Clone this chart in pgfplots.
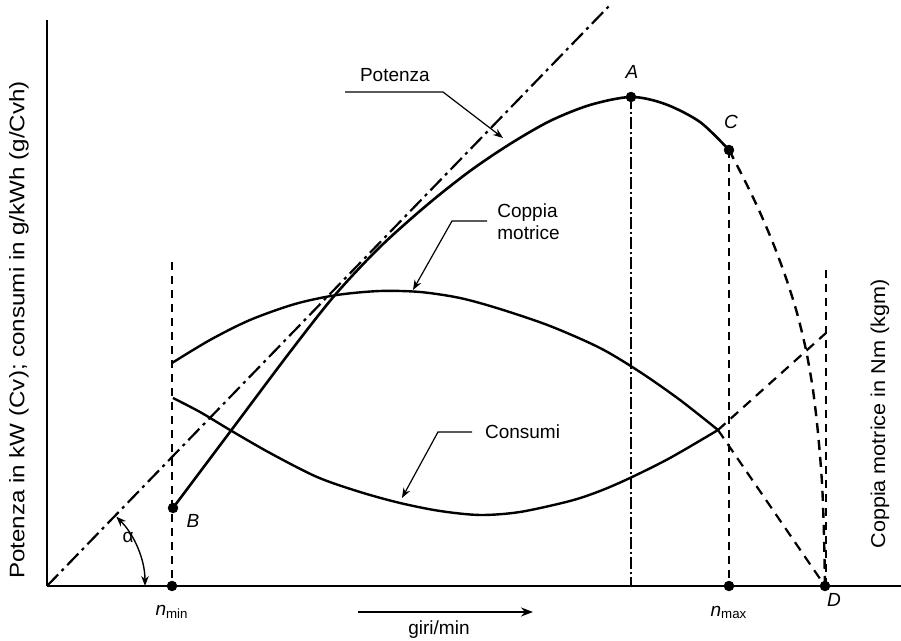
\documentclass[border=0pt]{standalone}
\usepackage{pgfplots}
\pgfplotsset{compat=1.18}
\usepackage{fontspec}
\setmainfont{Liberation Sans}
\usetikzlibrary{arrows.meta}

% coordinates are pixel positions of the scan: x = px, y = 641 - py
\pgfplotstableread{
x y
173 133
230 209
290 289
335 346
380 394
427 436
470 470
510 497
550 520
590 536
631 544
665 537
700 519
729 491
}\potenza
\pgfplotstableread{
x y
729 491
743 464
758 433
773 398
786 363
797 328
806 291
813 251
818 208
822 158
824 106
825 55
}\potenzadash
\pgfplotstableread{
x y
172 278
210 301
250 321
295 337
337 346
380 350
420 349
460 343
500 332
550 315
600 293
640 269
680 241
718 211
}\coppia
\pgfplotstableread{
x y
173 243
200 229
230 211
270 188
317 164
360 149
400 138
440 130
480 126
520 129
570 140
600 150
630 163
670 183
718 211
}\consumi

\begin{document}
\begin{tikzpicture}[font=\fontsize{9.5}{11}\selectfont]
\begin{axis}[
  scale only axis, width=427pt, height=283pt,
  xmin=47, xmax=901, ymin=55, ymax=621,
  axis lines=left, axis line style={-, line width=1pt},
  xtick=\empty, ytick=\empty, clip=false,
]
% tangent line from origin and vertical references
\addplot[line width=1.1pt, dash pattern=on 8pt off 2.5pt on 1.5pt off 2.5pt] coordinates {(47,55) (612,638)};
\addplot[line width=0.6pt, dash pattern=on 6pt off 1.5pt on 1pt off 1.5pt] coordinates {(631,544) (631,55)};
\addplot[line width=0.8pt, dash pattern=on 4pt off 3pt] coordinates {(172,379) (172,55)};
\addplot[line width=0.8pt, dash pattern=on 4pt off 3pt] coordinates {(729,491) (729,55)};
\addplot[line width=0.8pt, dash pattern=on 4pt off 3pt] coordinates {(826,371) (826,55)};
% curves
\addplot[line width=1.3pt, smooth] table {\potenza};
\addplot[line width=1.2pt, smooth, dash pattern=on 5pt off 3.5pt] table {\potenzadash};
\addplot[line width=1.2pt, smooth] table {\coppia};
\addplot[line width=1.1pt, dash pattern=on 5pt off 3.5pt] coordinates {(718,211) (826,308)};
\addplot[line width=1.2pt, smooth] table {\consumi};
\addplot[line width=1.1pt, dash pattern=on 5pt off 3.5pt] coordinates {(718,211) (825,55)};
% points
\addplot[only marks, mark=*, mark size=2.4pt] coordinates {(173,133) (631,544) (729,491) (172,55) (729,55) (825,55)};

% leaders
\draw[line width=0.6pt, -{Stealth[length=5pt]}] (axis cs:345,549) -- (axis cs:443,549) -- (axis cs:503,503);
\draw[line width=0.6pt, -{Stealth[length=5pt]}] (axis cs:487,420) -- (axis cs:452,420) -- (axis cs:413,351);
\draw[line width=0.6pt, -{Stealth[length=5pt]}] (axis cs:472,209) -- (axis cs:438,209) -- (axis cs:402,143);
\node[anchor=west] at (axis cs:353,566) {Potenza};
\node[anchor=west, align=left, inner sep=0pt] at (axis cs:497,419) {Coppia\\motrice};
\node[anchor=west] at (axis cs:478,209) {Consumi};

% alpha
\draw[line width=0.7pt, {Stealth[length=5pt]}-{Stealth[length=5pt]}] (axis cs:145,55) arc[start angle=0, end angle=45, radius=49pt];
\node at (axis cs:128,104) {α};

% point labels
\node at (axis cs:632,569) {\itshape A};
\node at (axis cs:731,519) {\itshape C};
\node at (axis cs:193,120) {\itshape B};
\node at (axis cs:834,41) {\itshape D};
\node at (axis cs:172,29) {{\itshape n}\textsubscript{min}};
\node at (axis cs:729,29) {{\itshape n}\textsubscript{max}};

% axis titles
\draw[line width=0.9pt, -{Stealth[length=6pt]}] (axis cs:358,29) -- (axis cs:533,29);
\node at (axis cs:439,11) {giri/min};
\node[rotate=90, font=\fontsize{10.5}{12}\selectfont] at (axis cs:19,311) {\scalebox{1.15}[1]{Potenza in kW (Cv); consumi in g/kWh (g/Cvh)}};
\node[rotate=90, font=\fontsize{10}{12}\selectfont] at (axis cs:880,227) {\scalebox{1.08}[1]{Coppia motrice in Nm (kgm)}};

\coordinate (bl) at (axis cs:0,0);
\coordinate (tr) at (axis cs:901,641);
\end{axis}
\pgfresetboundingbox
\useasboundingbox (bl) rectangle (tr);
\end{tikzpicture}
\end{document}
